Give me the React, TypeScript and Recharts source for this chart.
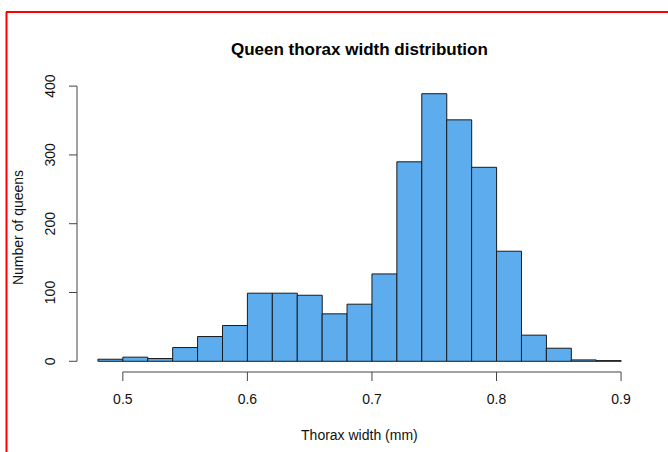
import React from 'react';
import { ComposedChart, Bar, XAxis, YAxis, ReferenceLine } from 'recharts';

// Histogram bins (mm), width 0.02, from 0.48 to 0.90
const binCenters = [0.49, 0.51, 0.53, 0.55, 0.57, 0.59, 0.61, 0.63, 0.65, 0.67, 0.69, 0.71, 0.73, 0.75, 0.77, 0.79, 0.81, 0.83, 0.85, 0.87, 0.89];
const counts = [3, 6, 4, 20, 36, 52, 99, 99, 96, 69, 83, 127, 290, 389, 351, 282, 160, 38, 19, 2, 1];
const xTicks = [0.5, 0.6, 0.7, 0.8, 0.9];
const yTicks = [0, 100, 200, 300, 400];

const title = 'Queen thorax width distribution';
const xTitle = 'Thorax width (mm)';
const yTitle = 'Number of queens';

const data = binCenters.map((x, i) => ({ x, count: counts[i] }));

const X_DOMAIN: [number, number] = [0.4632, 0.9168];
const Y_DOMAIN: [number, number] = [-15.56, 404.56];
const FONT = '"Liberation Sans", Arial, sans-serif';
const AXIS = '#444';

const YTick = (props: any) => {
  const { x, y, payload } = props;
  return (
    <text x={x} y={y} transform={`rotate(-90 ${x} ${y})`} textAnchor="middle" fontFamily={FONT} fontSize={14} fill="#111">
      {payload.value}
    </text>
  );
};

const XTick = (props: any) => {
  const { x, y, payload } = props;
  return (
    <text x={x} y={y + 10} textAnchor="middle" fontFamily={FONT} fontSize={14} fill="#111">
      {payload.value}
    </text>
  );
};

export default function App() {
  const W = 668;
  const H = 452;
  return (
    <div style={{ position: 'absolute', left: 0, top: 0, width: W, height: H, background: '#fff' }}>
      <ComposedChart
        width={W}
        height={H}
        data={data}
        margin={{ top: 83, right: 26, bottom: 0, left: 0 }}
        barCategoryGap={0}
        barGap={0}
      >
        <XAxis
          dataKey="x"
          type="number"
          domain={X_DOMAIN}
          ticks={xTicks}
          allowDataOverflow
          height={80}
          axisLine={false}
          tickLine={{ stroke: AXIS }}
          tickSize={9}
          tickMargin={13}
          tick={<XTick />}
          interval={0}
        />
        <YAxis
          type="number"
          domain={Y_DOMAIN}
          ticks={yTicks}
          allowDataOverflow
          width={77}
          axisLine={false}
          tickLine={{ stroke: AXIS }}
          tickSize={8}
          tickMargin={14}
          tick={<YTick />}
          interval={0}
        />
        <Bar dataKey="count" fill="#5CACEE" stroke="#1a1a1a" strokeWidth={1} isAnimationActive={false} />
        <ReferenceLine
          segment={[{ x: xTicks[0], y: Y_DOMAIN[0] }, { x: xTicks[xTicks.length - 1], y: Y_DOMAIN[0] }]}
          stroke={AXIS}
          ifOverflow="visible"
        />
        <ReferenceLine
          segment={[{ x: X_DOMAIN[0], y: yTicks[0] }, { x: X_DOMAIN[0], y: yTicks[yTicks.length - 1] }]}
          stroke={AXIS}
          ifOverflow="visible"
        />
      </ComposedChart>
      <svg width={W} height={H} style={{ position: 'absolute', left: 0, top: 0, pointerEvents: 'none' }}>
        <text x={359.4} y={55} textAnchor="middle" fontFamily={FONT} fontSize={17} fontWeight="bold" fill="#000">
          {title}
        </text>
        <text x={359.4} y={440} textAnchor="middle" fontFamily={FONT} fontSize={14} fill="#111">
          {xTitle}
        </text>
        <text x={23} y={227.5} transform="rotate(-90 23 227.5)" textAnchor="middle" fontFamily={FONT} fontSize={14} fill="#111">
          {yTitle}
        </text>
        <line x1={6.5} y1={12} x2={6.5} y2={H} stroke="#ff0000" strokeWidth={2} />
        <line x1={6} y1={12} x2={W} y2={12} stroke="#ff0000" strokeWidth={2} />
      </svg>
    </div>
  );
}
